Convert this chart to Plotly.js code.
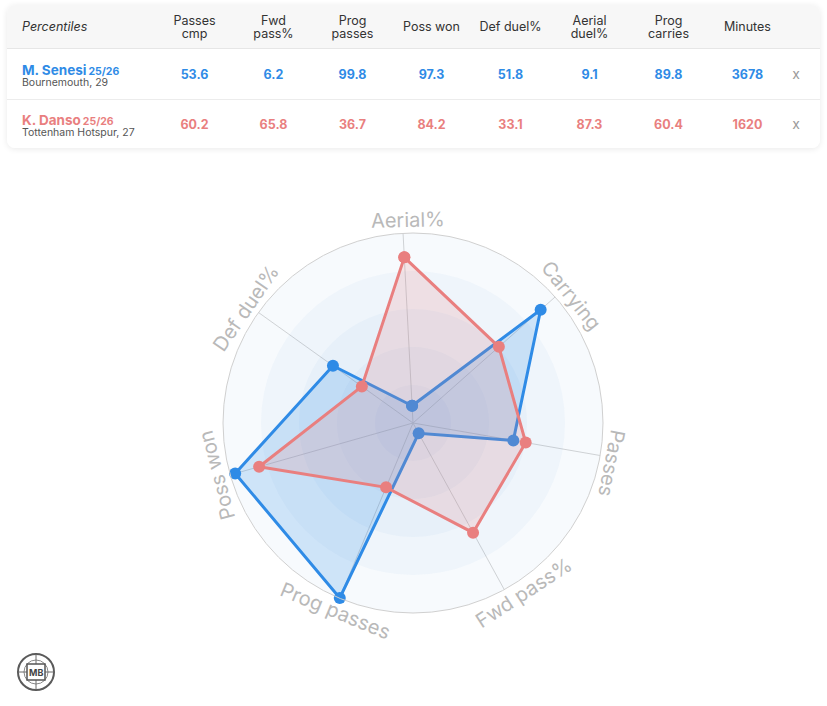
<!DOCTYPE html>
<html>
<head>
<meta charset="utf-8">
<script src="https://cdn.plot.ly/plotly-3.0.1.min.js"></script>
<style>
html,body{margin:0;padding:0;background:#fff;}
#wrap{position:relative;width:827px;height:706px;overflow:hidden;}
#card{position:absolute;left:7px;top:5px;width:813px;height:143px;border-radius:8px;
  background:linear-gradient(to bottom,#f7f7f7 0,#f7f7f7 43px,#e6e6e6 43px,#e6e6e6 44px,#fff 44px,#fff 94px,#ececec 94px,#ececec 95px,#fff 95px);
  box-shadow:0 1px 6px rgba(0,0,0,0.09);}
#chart{position:absolute;left:0;top:0;width:827px;height:706px;}
</style>
</head>
<body>
<div id="wrap"><div id="card"></div><div id="chart"></div></div>
<script>
// ---------- data ----------
const radarAxes = ['Aerial%', 'Carrying', 'Passes', 'Fwd pass%', 'Prog passes', 'Poss won', 'Def duel%'];
const senesiRadar = [9.1, 89.8, 53.6, 6.2, 99.8, 97.3, 51.8];
const dansoRadar  = [87.3, 60.4, 60.2, 65.8, 36.7, 84.2, 33.1];
const bandEdges = [100, 80, 60, 40, 20];

const tableHeaders = ['Passes<br>cmp', 'Fwd<br>pass%', 'Prog<br>passes', 'Poss won', 'Def duel%', 'Aerial<br>duel%', 'Prog<br>carries', 'Minutes'];
const playerNames = ['M. Senesi', 'K. Danso'];
const playerSeasons = ['25/26', '25/26'];
const playerInfo = ['Bournemouth, 29', 'Tottenham Hotspur, 27'];
const senesiStats = [53.6, 6.2, 99.8, 97.3, 51.8, 9.1, 89.8, 3678];
const dansoStats  = [60.2, 65.8, 36.7, 84.2, 33.1, 87.3, 60.4, 1620];

// ---------- style ----------
const W = 827, H = 706;
const FONT = 'Inter, "Noto Sans", sans-serif';
const BLUE = '#2f8be6', RED = '#e97f7f';
const playerColors = [BLUE, RED];
const X = px => px / W;
const Y = py => 1 - py / H;

// ---------- radar ----------
const step = 360 / radarAxes.length;
const thetas = radarAxes.map((_, i) => i * step);
const closeLoop = a => a.concat([a[0]]);
const ROT = 93;
const polarDomain = {x: [X(223), X(603)], y: [Y(613), Y(233)]};

const bands = {
  type: 'barpolar', r: bandEdges, theta: bandEdges.map(() => 0), width: bandEdges.map(() => 360),
  marker: {color: 'rgba(60,140,220,0.045)', line: {width: 0}},
  hoverinfo: 'skip', showlegend: false, subplot: 'polar'
};
function radarTrace(vals, color, fill, name) {
  return {
    type: 'scatterpolar', name: name, r: closeLoop(vals), theta: closeLoop(thetas),
    mode: 'lines+markers', fill: 'toself', fillcolor: fill,
    line: {color: color, width: 3}, marker: {color: color, size: 12},
    cliponaxis: false, showlegend: false, subplot: 'polar'
  };
}

// ---------- table text helpers (vertical placement via invisible nbsp, line centring) ----------
const ctx = document.createElement('canvas').getContext('2d');
function tw(t, size, bold, italic) {
  ctx.font = (italic ? 'italic ' : '') + (bold ? 'bold ' : '') + size + 'px Inter';
  return ctx.measureText(t).width;
}
const NB = '\u00a0';
const sp = (t, size, color) => `<span style="font-size:${size}px${color ? ';color:' + color : ''}">${t}</span>`;
function filler(w, size) {
  if (w <= 0.2) return '';
  const u = tw(NB, size);
  const n = Math.floor(w / u);
  const rem = w - n * u;
  let h = n > 0 ? sp(NB.repeat(n), size) : '';
  if (rem > 0.2) h += sp(NB, +(rem / u * size).toFixed(2));
  return h;
}
const HF = 12.5;      // header text size
const S1 = 21.6;      // invisible strut, single-line header
const S2 = 15.5;      // invisible strut, two-line header
const SN = 18.6;      // invisible strut, player name line
const SV = 23;        // invisible strut, value line
function headerCell(h) {
  if (h.indexOf('<br>') < 0) return sp(NB, S1) + sp(h, HF) + sp(NB, S1) + '<br>';
  const [a, b] = h.split('<br>');
  const wa = tw(a, HF) + 2 * tw(NB, S2), wb = tw(b, HF);
  const wm = Math.max(wa, wb);
  const fa = (wm - wa) / 2, fb = (wm - wb) / 2;
  return sp(NB, S2) + filler(fa, HF) + sp(a, HF) + filler(fa, HF) + sp(NB, S2) + '<br>' +
         filler(fb, HF) + sp(b, HF) + filler(fb, HF);
}
const headerValues = ['', `<i>${sp('Percentiles', HF)}</i>` + sp(NB, S1) + '<br>']
  .concat(tableHeaders.map(headerCell)).concat(['', '']);
const headerSizes = [12, 12].concat(tableHeaders.map(h => h.indexOf('<br>') >= 0 ? 9.8 : 12)).concat([12, 12]);

const statRows = [senesiStats, dansoStats];
const nameCol = playerNames.map((n, i) =>
  `<b>${sp(n, 13.5, playerColors[i])} ${sp(playerSeasons[i], 10.5, playerColors[i])}</b>` + sp(NB, SN) + '<br>' +
  sp(playerInfo[i], 10.5, '#555'));
const statCols = tableHeaders.map((_, c) => statRows.map(row => sp(NB, SV) + `<b>${sp(row[c], 12.5)}</b>` + sp(NB, SV) + '<br>'));
const xCol = playerNames.map(() => sp(NB, SV) + sp('x', 14) + sp(NB, SV) + '<br>');
const cellValues = [['', '']].concat([nameCol]).concat(statCols).concat([xCol, ['', '']]);
const cellSizes = [12, 8.3].concat(tableHeaders.map(() => 12)).concat([12, 12]);
const cellColors = [['#333', '#333'], ['#333', '#333']].concat(tableHeaders.map(() => playerColors)).concat([['#9a9a9a', '#9a9a9a'], ['#333', '#333']]);
const aligns = ['left', 'left'].concat(tableHeaders.map(() => 'center')).concat(['center', 'left']);
const colWidths = [7, 141].concat(tableHeaders.map(() => 79)).concat([18, 15]);

const table = {
  type: 'table', domain: {x: [X(7), X(820)], y: [Y(152), Y(2)]},
  columnwidth: colWidths,
  header: {values: headerValues, align: aligns, height: 46,
    fill: {color: 'rgba(0,0,0,0)'}, line: {color: 'rgba(0,0,0,0)', width: 0},
    font: {family: FONT, size: headerSizes, color: '#333'}},
  cells: {values: cellValues, align: aligns, height: 50,
    fill: {color: 'rgba(0,0,0,0)'}, line: {color: 'rgba(0,0,0,0)', width: 0},
    font: {family: FONT, size: cellSizes, color: cellColors}}
};

// ---------- axis labels (rotated along the circle) ----------
const cxPx = (polarDomain.x[0] + polarDomain.x[1]) / 2 * W;
const cyPx = (1 - (polarDomain.y[0] + polarDomain.y[1]) / 2) * H;
const LABEL_R = 203;
const labelAngleOffsets = [-1.7, -2.9, -1.4, 4.3, 0.3, -1.0, 1.0];
const labelAnns = radarAxes.map((name, i) => {
  const th = ROT - thetas[i] + labelAngleOffsets[i];
  const rad = th * Math.PI / 180;
  let rot = 90 - th;
  rot = ((rot + 180) % 360 + 360) % 360 - 180;
  if (rot > 120) rot -= 180;
  if (rot < -120) rot += 180;
  return {
    xref: 'paper', yref: 'paper', x: X(cxPx + LABEL_R * Math.cos(rad)), y: Y(cyPx - LABEL_R * Math.sin(rad)),
    xanchor: 'center', yanchor: 'middle', text: name, textangle: rot, showarrow: false,
    font: {family: FONT, size: 20, color: '#b9b9b9'}
  };
});

// ---------- logo ----------
const logoShapes = [
  {type: 'circle', xref: 'paper', yref: 'paper', x0: X(18), x1: X(54), y0: Y(690), y1: Y(654), line: {color: '#5a5a5a', width: 2}},
  {type: 'circle', xref: 'paper', yref: 'paper', x0: X(24), x1: X(48), y0: Y(684), y1: Y(660), line: {color: '#8a8a8a', width: 1}},
  {type: 'line', xref: 'paper', yref: 'paper', x0: X(18), x1: X(27), y0: Y(672), y1: Y(672), line: {color: '#6a6a6a', width: 1}},
  {type: 'line', xref: 'paper', yref: 'paper', x0: X(45), x1: X(54), y0: Y(672), y1: Y(672), line: {color: '#6a6a6a', width: 1}},
  {type: 'line', xref: 'paper', yref: 'paper', x0: X(36), x1: X(36), y0: Y(654), y1: Y(664), line: {color: '#6a6a6a', width: 1}},
  {type: 'line', xref: 'paper', yref: 'paper', x0: X(36), x1: X(36), y0: Y(680), y1: Y(690), line: {color: '#6a6a6a', width: 1}},
  {type: 'rect', xref: 'paper', yref: 'paper', x0: X(27), x1: X(45), y0: Y(680), y1: Y(664), fillcolor: '#fff', line: {color: '#555', width: 1.5}}
];
const logoAnn = {xref: 'paper', yref: 'paper', x: X(36), y: Y(672), xanchor: 'center', yanchor: 'middle',
  text: '<b>MB</b>', showarrow: false, font: {family: FONT, size: 9, color: '#444'}};

const layout = {
  width: W, height: H, margin: {l: 0, r: 0, t: 0, b: 0},
  paper_bgcolor: 'rgba(0,0,0,0)', plot_bgcolor: 'rgba(0,0,0,0)',
  font: {family: FONT},
  showlegend: false,
  polar: {
    domain: polarDomain, bgcolor: 'rgba(0,0,0,0)', barmode: 'overlay', hole: 0,
    radialaxis: {range: [0, 100], visible: false},
    angularaxis: {type: 'linear', rotation: ROT, direction: 'clockwise', tickmode: 'array', tickvals: thetas,
      showticklabels: false, ticks: '', showgrid: true, gridcolor: '#d6d6d6', gridwidth: 1,
      showline: true, linecolor: '#d0d0d0', linewidth: 1}
  },
  annotations: labelAnns.concat([logoAnn]),
  shapes: logoShapes
};

Plotly.newPlot('chart', [table, bands, radarTrace(senesiRadar, BLUE, 'rgba(47,139,230,0.2)', 'M. Senesi'),
  radarTrace(dansoRadar, RED, 'rgba(233,127,127,0.18)', 'K. Danso')], layout, {displayModeBar: false, staticPlot: true});
</script>
</body>
</html>
